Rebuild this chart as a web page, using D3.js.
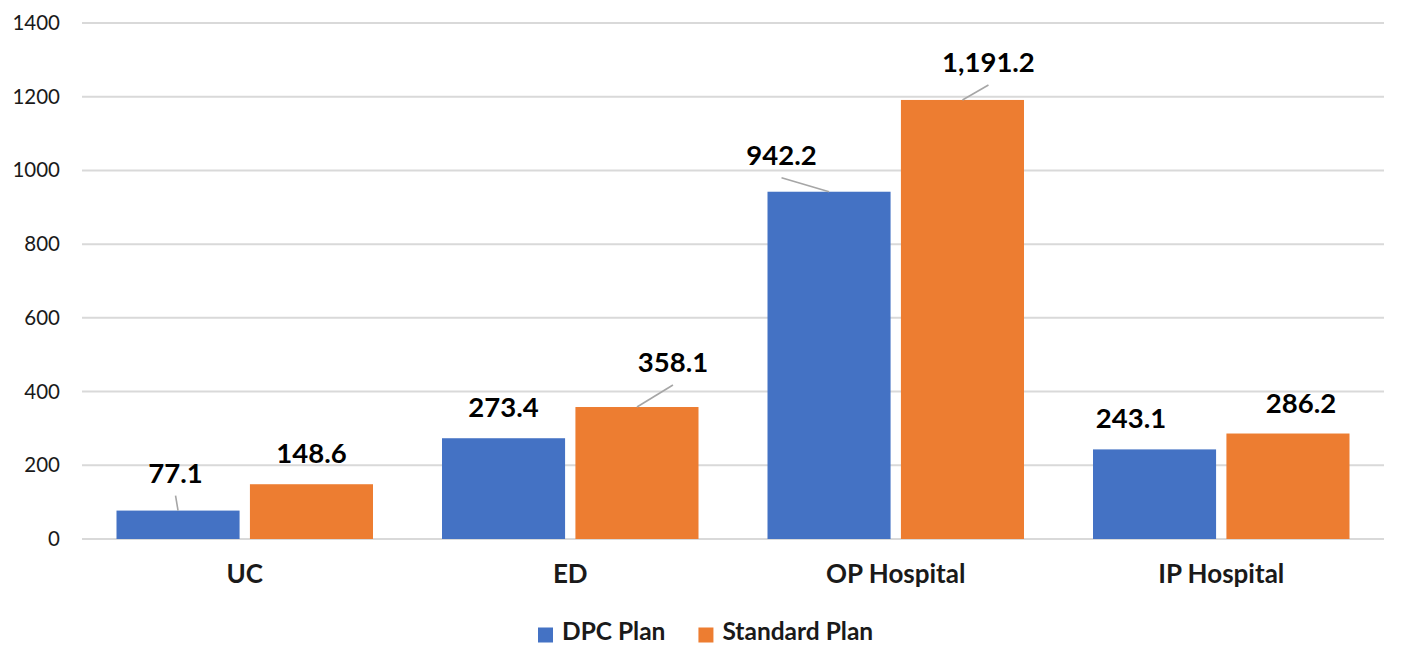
<!DOCTYPE html>
<html>
<head>
<meta charset="utf-8">
<script src="https://cdn.jsdelivr.net/npm/d3@7"></script>
<style>
  html, body { margin: 0; padding: 0; background: #ffffff; }
  svg { display: block; font-family: Lato, "Open Sans", sans-serif; }
</style>
</head>
<body>
<svg id="chart" width="1403" height="645"></svg>
<script>
// Service categories and the two plan series
const categories = ["UC", "ED", "OP Hospital", "IP Hospital"];
const seriesNames = ["DPC Plan", "Standard Plan"];
const dpcPlan = [77.1, 273.4, 942.2, 243.1];
const standardPlan = [148.6, 358.1, 1191.2, 286.2];
const yTicks = [0, 200, 400, 600, 800, 1000, 1200, 1400];
const seriesColors = ["#4472C4", "#ED7D31"];

// Manual label placement (dx, dy in px from the default spot above each bar),
// with a flag for labels connected to their bar by a leader line.
const labelNudges = [
  [{dx: -2.5, dy: -7, leader: true}, {dx: 0, dy: 0, leader: false}],
  [{dx: 0, dy: 0, leader: false},    {dx: 36, dy: -14, leader: true}],
  [{dx: -47.5, dy: -6, leader: true}, {dx: 26, dy: -7, leader: true}],
  [{dx: -23.5, dy: 0, leader: false}, {dx: 13, dy: 0, leader: false}]
];

const series = [dpcPlan, standardPlan];
const rows = categories.map((c, i) => ({
  category: c,
  values: series.map((s, j) => ({ key: seriesNames[j], idx: j, value: s[i], nudge: labelNudges[i][j] }))
}));

const svg = d3.select("#chart");
const margin = { left: 82, right: 19, top: 23, bottom: 106 };
const width = 1403 - margin.left - margin.right;
const height = 645 - margin.top - margin.bottom;
const g = svg.append("g").attr("transform", `translate(${margin.left},${margin.top})`);

const x0 = d3.scaleBand().domain(categories).range([0, width]).paddingInner(0).paddingOuter(0);
const groupPad = 34.5;
const x1 = d3.scaleBand().domain(seriesNames)
  .range([groupPad, x0.bandwidth() - groupPad]).paddingInner(0.0775).paddingOuter(0);
const y = d3.scaleLinear().domain([0, 1400]).range([height, 0]);

// Horizontal gridlines
g.append("g").selectAll("line").data(yTicks).join("line")
  .attr("x1", 0).attr("x2", width)
  .attr("y1", d => y(d)).attr("y2", d => y(d))
  .attr("stroke", "#d9d9d9").attr("stroke-width", 2);

// Y axis labels
const yAxis = g.append("g").call(d3.axisLeft(y).tickValues(yTicks).tickSize(0).tickPadding(22).tickFormat(d3.format("d")));
yAxis.select(".domain").remove();
yAxis.selectAll("text").attr("font-size", 20.5).attr("fill", "#1a1a1a")
  .attr("font-family", "Lato, sans-serif");

// X axis category labels
const xAxis = g.append("g").attr("transform", `translate(0,${height})`)
  .call(d3.axisBottom(x0).tickSize(0).tickPadding(26));
xAxis.select(".domain").remove();
xAxis.selectAll("text").attr("font-size", 26).attr("font-weight", "bold").attr("fill", "#1a1a1a")
  .attr("font-family", "Lato, sans-serif");

// Bars
const groups = g.append("g").selectAll("g").data(rows).join("g")
  .attr("transform", d => `translate(${x0(d.category)},0)`);

groups.selectAll("rect").data(d => d.values).join("rect")
  .attr("x", d => x1(d.key))
  .attr("width", x1.bandwidth())
  .attr("y", d => y(d.value))
  .attr("height", d => y(0) - y(d.value))
  .attr("fill", d => seriesColors[d.idx]);

// Leader lines and value labels
const fmt = d3.format(",.1f");
const labelGap = 21;
groups.each(function(row) {
  const grp = d3.select(this);
  row.values.forEach(v => {
    const cx = x1(v.key) + x1.bandwidth() / 2;
    const top = y(v.value);
    const lx = cx + v.nudge.dx;
    const ly = top - labelGap + v.nudge.dy;
    if (v.nudge.leader) {
      grp.append("line")
        .attr("x1", cx).attr("y1", top)
        .attr("x2", lx).attr("y2", ly + 13)
        .attr("stroke", "#a6a6a6").attr("stroke-width", 1.6);
    }
    grp.append("text")
      .attr("x", lx).attr("y", ly)
      .attr("text-anchor", "middle")
      .attr("font-size", 27.5).attr("font-weight", "bold").attr("fill", "#000")
      .text(fmt(v.value));
  });
});

// Legend
const legend = svg.append("g").attr("transform", "translate(538,640)");
let lxPos = 0;
seriesNames.forEach((name, i) => {
  const item = legend.append("g").attr("transform", `translate(${lxPos},0)`);
  item.append("rect").attr("x", 0).attr("y", -12.5).attr("width", 15).attr("height", 15)
    .attr("fill", seriesColors[i]);
  const t = item.append("text").attr("x", 24).attr("y", 0)
    .attr("font-size", 24.5).attr("font-weight", "bold").attr("fill", "#1a1a1a")
    .text(name);
  lxPos += 24 + t.node().getComputedTextLength() + 33;
});
</script>
</body>
</html>
